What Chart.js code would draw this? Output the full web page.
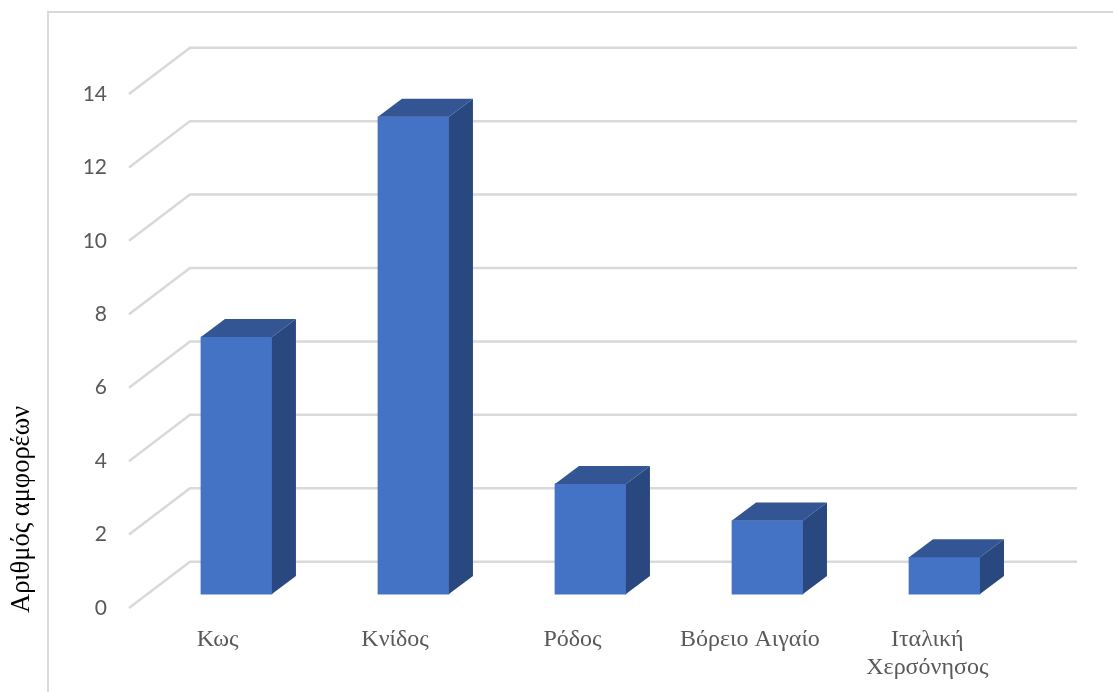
<!DOCTYPE html>
<html>
<head>
<meta charset="utf-8">
<script src="https://cdn.jsdelivr.net/npm/chart.js@4"></script>
<style>
  html, body { margin: 0; padding: 0; background: #fff; }
  #wrap { position: relative; width: 1113px; height: 692px; }
</style>
</head>
<body>
<div id="wrap"><canvas id="amphoraChart" width="1113" height="692"></canvas></div>
<script>
const categories = ["Κως", "Κνίδος", "Ρόδος", "Βόρειο Αιγαίο", ["Ιταλική", "Χερσόνησος"]];
const amphoraCounts = [7, 13, 3, 2, 1];
const yTicks = [0, 2, 4, 6, 8, 10, 12, 14];
const yTitle = "Αριθμός αμφορέων";

// drawn look of the old 3D column chart
const FRONT = "#4472c4";
const TOP = "#335593";
const SIDE = "#2a4880";
const GRID = "#d9d9d9";
const WALL_DX = 61, WALL_DY = 46.3;   // floor front edge -> back wall
const BAR_DX = 24, BAR_DY = 18;       // depth of a column

const chartArea = { left: 129, top: 94, right: 1016, bottom: 608 };

// frame and back wall with the slanted floor lines, behind the bars
const wallPlugin = {
  id: "wall",
  beforeDatasetsDraw(chart) {
    const { ctx } = chart;
    const y = chart.scales.y;
    ctx.save();
    ctx.strokeStyle = GRID;
    ctx.lineWidth = 2;
    ctx.beginPath();
    ctx.moveTo(48, 692);
    ctx.lineTo(48, 12);
    ctx.lineTo(1113, 12);
    ctx.stroke();
    ctx.lineWidth = 2.5;
    yTicks.forEach((t) => {
      const py = y.getPixelForValue(t);
      ctx.beginPath();
      ctx.moveTo(chartArea.left, py);
      ctx.lineTo(chartArea.left + WALL_DX, py - WALL_DY);
      ctx.lineTo(chartArea.right + WALL_DX, py - WALL_DY);
      ctx.stroke();
    });
    ctx.restore();

    // axis title sits low on the left, below the middle of the axis
    ctx.save();
    ctx.translate(29, 613);
    ctx.rotate(-Math.PI / 2);
    ctx.fillStyle = "#000";
    ctx.font = "26.5px 'Liberation Serif'";
    ctx.textAlign = "left";
    ctx.fillText(yTitle, 0, 0);
    ctx.restore();
  },
  // top and side faces of each column, from the bar elements
  afterDatasetsDraw(chart) {
    const { ctx } = chart;
    chart.getDatasetMeta(0).data.forEach((bar) => {
      const l = bar.x - bar.width / 2, r = bar.x + bar.width / 2;
      ctx.fillStyle = TOP;
      ctx.beginPath();
      ctx.moveTo(l, bar.y);
      ctx.lineTo(l + BAR_DX, bar.y - BAR_DY);
      ctx.lineTo(r + BAR_DX, bar.y - BAR_DY);
      ctx.lineTo(r, bar.y);
      ctx.closePath();
      ctx.fill();
      ctx.fillStyle = SIDE;
      ctx.beginPath();
      ctx.moveTo(r, bar.y);
      ctx.lineTo(r + BAR_DX, bar.y - BAR_DY);
      ctx.lineTo(r + BAR_DX, bar.base - BAR_DY);
      ctx.lineTo(r, bar.base);
      ctx.closePath();
      ctx.fill();
    });
  },
};

new Chart(document.getElementById("amphoraChart").getContext("2d"), {
  type: "bar",
  data: {
    labels: categories,
    datasets: [{
      data: amphoraCounts.map((v, i) => ({ x: i, y: v })),
      xAxisID: "xBar",
      yAxisID: "yBar",
      backgroundColor: FRONT,
      barThickness: 71,
    }],
  },
  plugins: [wallPlugin],
  options: {
    responsive: false,
    animation: false,
    layout: { padding: { left: 0, top: chartArea.top, right: 1113 - chartArea.right, bottom: 0 } },
    plugins: { legend: { display: false }, tooltip: { enabled: false } },
    scales: {
      x: {
        type: "category",
        labels: categories,
        grid: { display: false },
        border: { display: false },
        ticks: {
          color: "#595959",
          maxRotation: 0,
          autoSkip: false,
          padding: 9,
          font: { family: "'Liberation Serif'", size: 24 },
        },
        afterFit(scale) { scale.height = 692 - chartArea.bottom; },
      },
      y: {
        min: 0,
        max: 14,
        afterBuildTicks(scale) { scale.ticks = yTicks.map((value) => ({ value })); },
        grid: { display: false },
        border: { display: false },
        ticks: {
          color: "#595959",
          padding: 14,
          font: { family: "Lato", size: 21 },
        },
        afterFit(scale) { scale.width = chartArea.left; },
      },
      // columns sit further back than the axis labels, so they get their own hidden scales
      xBar: { type: "linear", display: false, offset: false, min: -0.607, max: 4.404 },
      yBar: { display: false, position: "right", min: -0.38, max: 13.62 },
    },
  },
});
</script>
</body>
</html>
